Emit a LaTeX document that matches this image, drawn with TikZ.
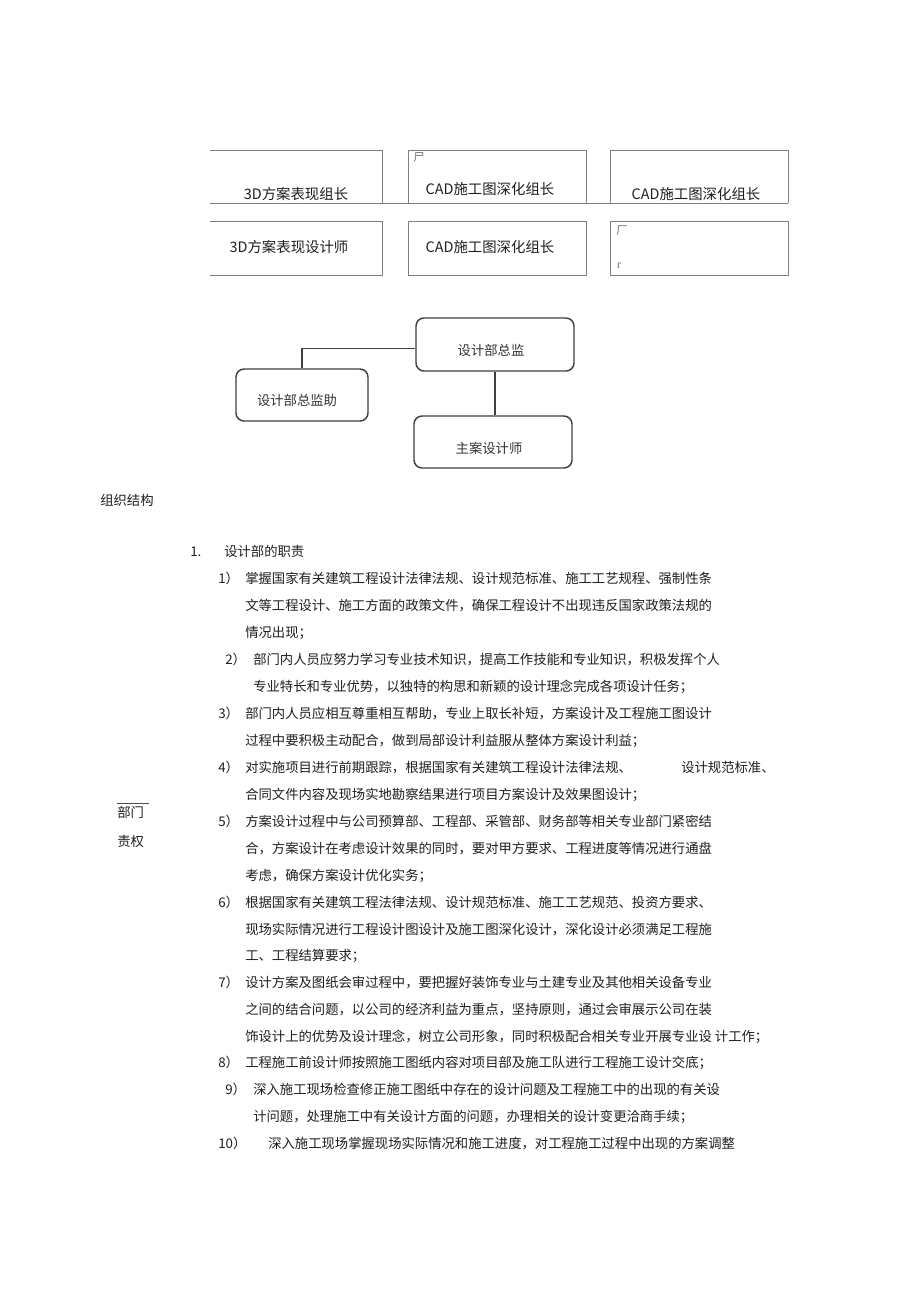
\documentclass[tikz,border=0pt]{standalone}
\usepackage{fontspec}
\newfontfamily\cjk{Noto Sans CJK SC}
\newfontfamily\serifr{Liberation Serif}
\begin{document}
\begin{tikzpicture}[x=0.75pt,y=-0.75pt]
\tikzset{
  txt/.style={font=\cjk\fontsize{10}{12}\selectfont, text=black!88, inner sep=0pt, anchor=base west},
  boxtxt/.style={font=\cjk\fontsize{10.8}{13}\selectfont, text=black!88, inner sep=0pt},
  rtxt/.style={font=\cjk\fontsize{10}{12}\selectfont, text=black!80, inner sep=0pt},
  tline/.style={draw=black!50, line width=0.7pt},
  rbox/.style={draw=black!75, line width=1.1pt, rounded corners=6pt, inner sep=0pt},
  conn/.style={draw=black!75, line width=1.1pt},
  odd/.style={font=\cjk\fontsize{8.5}{10}\selectfont, text=black!55, inner sep=0pt}
}
\useasboundingbox (0,0) rectangle (920,1303);
\fill[white] (0,0) rectangle (920,1303);

% ---- top boxes ----
\draw[tline] (210,150) -- (382,150) -- (382,203);
\draw[tline] (408,203) |- (586,150) -- (586,203);
\draw[tline] (610,203) |- (788,150) -- (788,203);
\draw[tline] (210,203) -- (788,203);
\draw[tline] (210,221) -- (382,221) -- (382,275) -- (210,275);
\draw[tline] (408,221) rectangle (586,275);
\draw[tline] (610,221) rectangle (788,275);

\node[boxtxt] (t11) at (296,194) {3D方案表现组长};
\node[boxtxt] (t12) at (490,189) {CAD施工图深化组长};
\node[boxtxt] (t13) at (696,194) {CAD施工图深化组长};
\node[boxtxt] (t21) at (289,247) {3D方案表现设计师};
\node[boxtxt] (t22) at (490,247) {CAD施工图深化组长};
\node[odd] (o1) at (419,157) {尸};
\node[odd] (o2) at (622,231) {厂};
\node[font=\serifr\fontsize{9}{10}\selectfont, text=black!55, inner sep=0pt] (o3) at (619,266) {r};

% ---- org chart ----
\node[rbox, minimum width=118.5pt, minimum height=39.75pt] (zj) at (495,344.5) {};
\node[rbox, minimum width=99pt, minimum height=39pt] (zl) at (302,395) {};
\node[rbox, minimum width=118.5pt, minimum height=39pt] (zs) at (493,442) {};
\node[rtxt] (zjt) at (491,350) {设计部总监};
\node[rtxt] (zlt) at (297,400) {设计部总监助};
\node[rtxt] (zst) at (489,448) {主案设计师};
\draw[conn] ([yshift=-3pt]zj.west) -| (zl.north);
\draw[conn] (zj.south) -- (zj.south |- zs.north);

% ---- text ----
\node[txt] (h0) at (100,505) {组织结构};
\node[txt] (n0) at (190,556) {1.};
\node[txt] (h1) at (224,556) {设计部的职责};

\node[txt] (n1) at (218,583) {1）};
\node[txt] (a1) at (245,583) {掌握国家有关建筑工程设计法律法规、设计规范标准、施工工艺规程、强制性条};
\node[txt] (a2) at (245,610) {文等工程设计、施工方面的政策文件，确保工程设计不出现违反国家政策法规的};
\node[txt] (a3) at (245,637) {情况出现；};

\node[txt] (n2) at (225,664) {2）};
\node[txt] (b1) at (253,664) {部门内人员应努力学习专业技术知识，提高工作技能和专业知识，积极发挥个人};
\node[txt] (b2) at (253,691) {专业特长和专业优势，以独特的构思和新颖的设计理念完成各项设计任务；};

\node[txt] (n3) at (218,718) {3）};
\node[txt] (c1) at (245,718) {部门内人员应相互尊重相互帮助，专业上取长补短，方案设计及工程施工图设计};
\node[txt] (c2) at (245,745) {过程中要积极主动配合，做到局部设计利益服从整体方案设计利益；};

\node[txt] (n4) at (218,772) {4）};
\node[txt] (d1) at (245,772) {对实施项目进行前期跟踪，根据国家有关建筑工程设计法律法规、};
\node[txt] (d1b) at (681,772) {设计规范标准、};
\node[txt] (d2) at (245,799) {合同文件内容及现场实地勘察结果进行项目方案设计及效果图设计；};

\draw[draw=black!70, line width=0.6pt] (117,803) -- (149,803);
\node[txt] (s1) at (117,817) {部门};
\node[txt] (s2) at (117,846) {责权};

\node[txt] (n5) at (218,826) {5）};
\node[txt] (e1) at (245,826) {方案设计过程中与公司预算部、工程部、采管部、财务部等相关专业部门紧密结};
\node[txt] (e2) at (245,853) {合，方案设计在考虑设计效果的同时，要对甲方要求、工程进度等情况进行通盘};
\node[txt] (e3) at (245,880) {考虑，确保方案设计优化实务；};

\node[txt] (n6) at (218,907) {6）};
\node[txt] (f1) at (245,907) {根据国家有关建筑工程法律法规、设计规范标准、施工工艺规范、投资方要求、};
\node[txt] (f2) at (245,934) {现场实际情况进行工程设计图设计及施工图深化设计，深化设计必须满足工程施};
\node[txt] (f3) at (245,960) {工、工程结算要求；};

\node[txt] (n7) at (218,987) {7）};
\node[txt] (g1) at (245,987) {设计方案及图纸会审过程中，要把握好装饰专业与土建专业及其他相关设备专业};
\node[txt] (g2) at (245,1014) {之间的结合问题，以公司的经济利益为重点，坚持原则，通过会审展示公司在装};
\node[txt] (g3) at (245,1041) {饰设计上的优势及设计理念，树立公司形象，同时积极配合相关专业开展专业设 计工作；};

\node[txt] (n8) at (218,1067) {8）};
\node[txt] (h8) at (245,1067) {工程施工前设计师按照施工图纸内容对项目部及施工队进行工程施工设计交底；};

\node[txt] (n9) at (225,1094) {9）};
\node[txt] (i1) at (253,1094) {深入施工现场检查修正施工图纸中存在的设计问题及工程施工中的出现的有关设};
\node[txt] (i2) at (253,1121) {计问题，处理施工中有关设计方面的问题，办理相关的设计变更洽商手续；};

\node[txt] (n10) at (218,1148) {10）};
\node[txt] (j1) at (268,1148) {深入施工现场掌握现场实际情况和施工进度，对工程施工过程中出现的方案调整};
\end{tikzpicture}
\end{document}
